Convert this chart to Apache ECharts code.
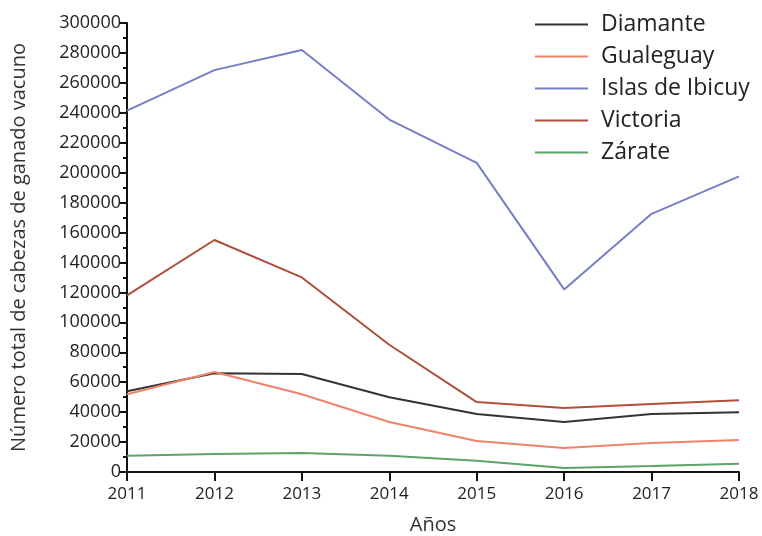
<!DOCTYPE html>
<html>
<head>
<meta charset="utf-8">
<script src="https://cdn.jsdelivr.net/npm/echarts@6/dist/echarts.min.js"></script>
<style>html,body{margin:0;padding:0;background:#fff}#c{width:762px;height:536px}</style>
</head>
<body>
<div id="c"></div>
<script>
const years = ['2011','2012','2013','2014','2015','2016','2017','2018'];
const diamante = [54000, 66000, 65500, 50000, 38700, 33400, 38700, 40000];
const gualeguay = [52000, 66800, 52000, 33400, 20700, 16000, 19300, 21400];
const islasDeIbicuy = [241500, 268500, 282000, 235500, 206500, 122000, 172500, 197500];
const victoria = [118000, 155000, 130000, 85000, 46700, 42800, 45400, 48000];
const zarate = [10900, 12000, 12700, 10900, 7500, 2700, 4000, 5500];
const seriesNames = ['Diamante', 'Gualeguay', 'Islas de Ibicuy', 'Victoria', 'Zárate'];
const seriesData = [diamante, gualeguay, islasDeIbicuy, victoria, zarate];
const colors = ['#333333', '#f0826a', '#767ec4', '#ad4f3a', '#5ea36a'];

const font = 'Open Sans';
const chart = echarts.init(document.getElementById('c'));
chart.setOption({
  animation: false,
  color: colors,
  textStyle: {fontFamily: font},
  legend: {
    orient: 'vertical',
    left: 530, top: 8,
    itemWidth: 53, itemHeight: 2, itemGap: 9,
    icon: 'rect',
    textStyle: {fontSize: 23, color: '#222', fontFamily: font, padding: [0,0,0,8]},
    data: seriesNames
  },
  grid: {left: 127, right: 23, top: 23, bottom: 64, containLabel: false, outerBoundsMode: 'none'},
  xAxis: {
    type: 'category', data: years, boundaryGap: false,
    name: 'Años', nameLocation: 'middle', nameGap: 43,
    nameTextStyle: {fontSize: 20, color: '#333', fontFamily: font},
    axisLine: {lineStyle: {color: '#111', width: 2}},
    axisTick: {show: true, length: 9, lineStyle: {color: '#111', width: 2}, alignWithLabel: true},
    axisLabel: {fontSize: 17, color: '#222', margin: 14, fontFamily: font}
  },
  yAxis: {
    type: 'value', min: 0, max: 300000, interval: 20000,
    name: 'Número total de cabezas de ganado vacuno', nameLocation: 'middle', nameGap: 98,
    nameTextStyle: {fontSize: 20, color: '#333', fontFamily: font},
    axisLine: {show: true, lineStyle: {color: '#111', width: 2}},
    axisTick: {show: true, length: 7, lineStyle: {color: '#111', width: 2}},
    minorTick: {show: true, splitNumber: 2, length: 4, lineStyle: {color: '#111', width: 2}},
    splitLine: {show: false},
    axisLabel: {fontSize: 18, color: '#222', margin: 6, fontFamily: font, formatter: v => String(v)}
  },
  series: seriesNames.map((n, i) => ({
    name: n, type: 'line', data: seriesData[i], symbol: 'none',
    lineStyle: {width: 2, color: colors[i]}
  }))
});
</script>
</body>
</html>
